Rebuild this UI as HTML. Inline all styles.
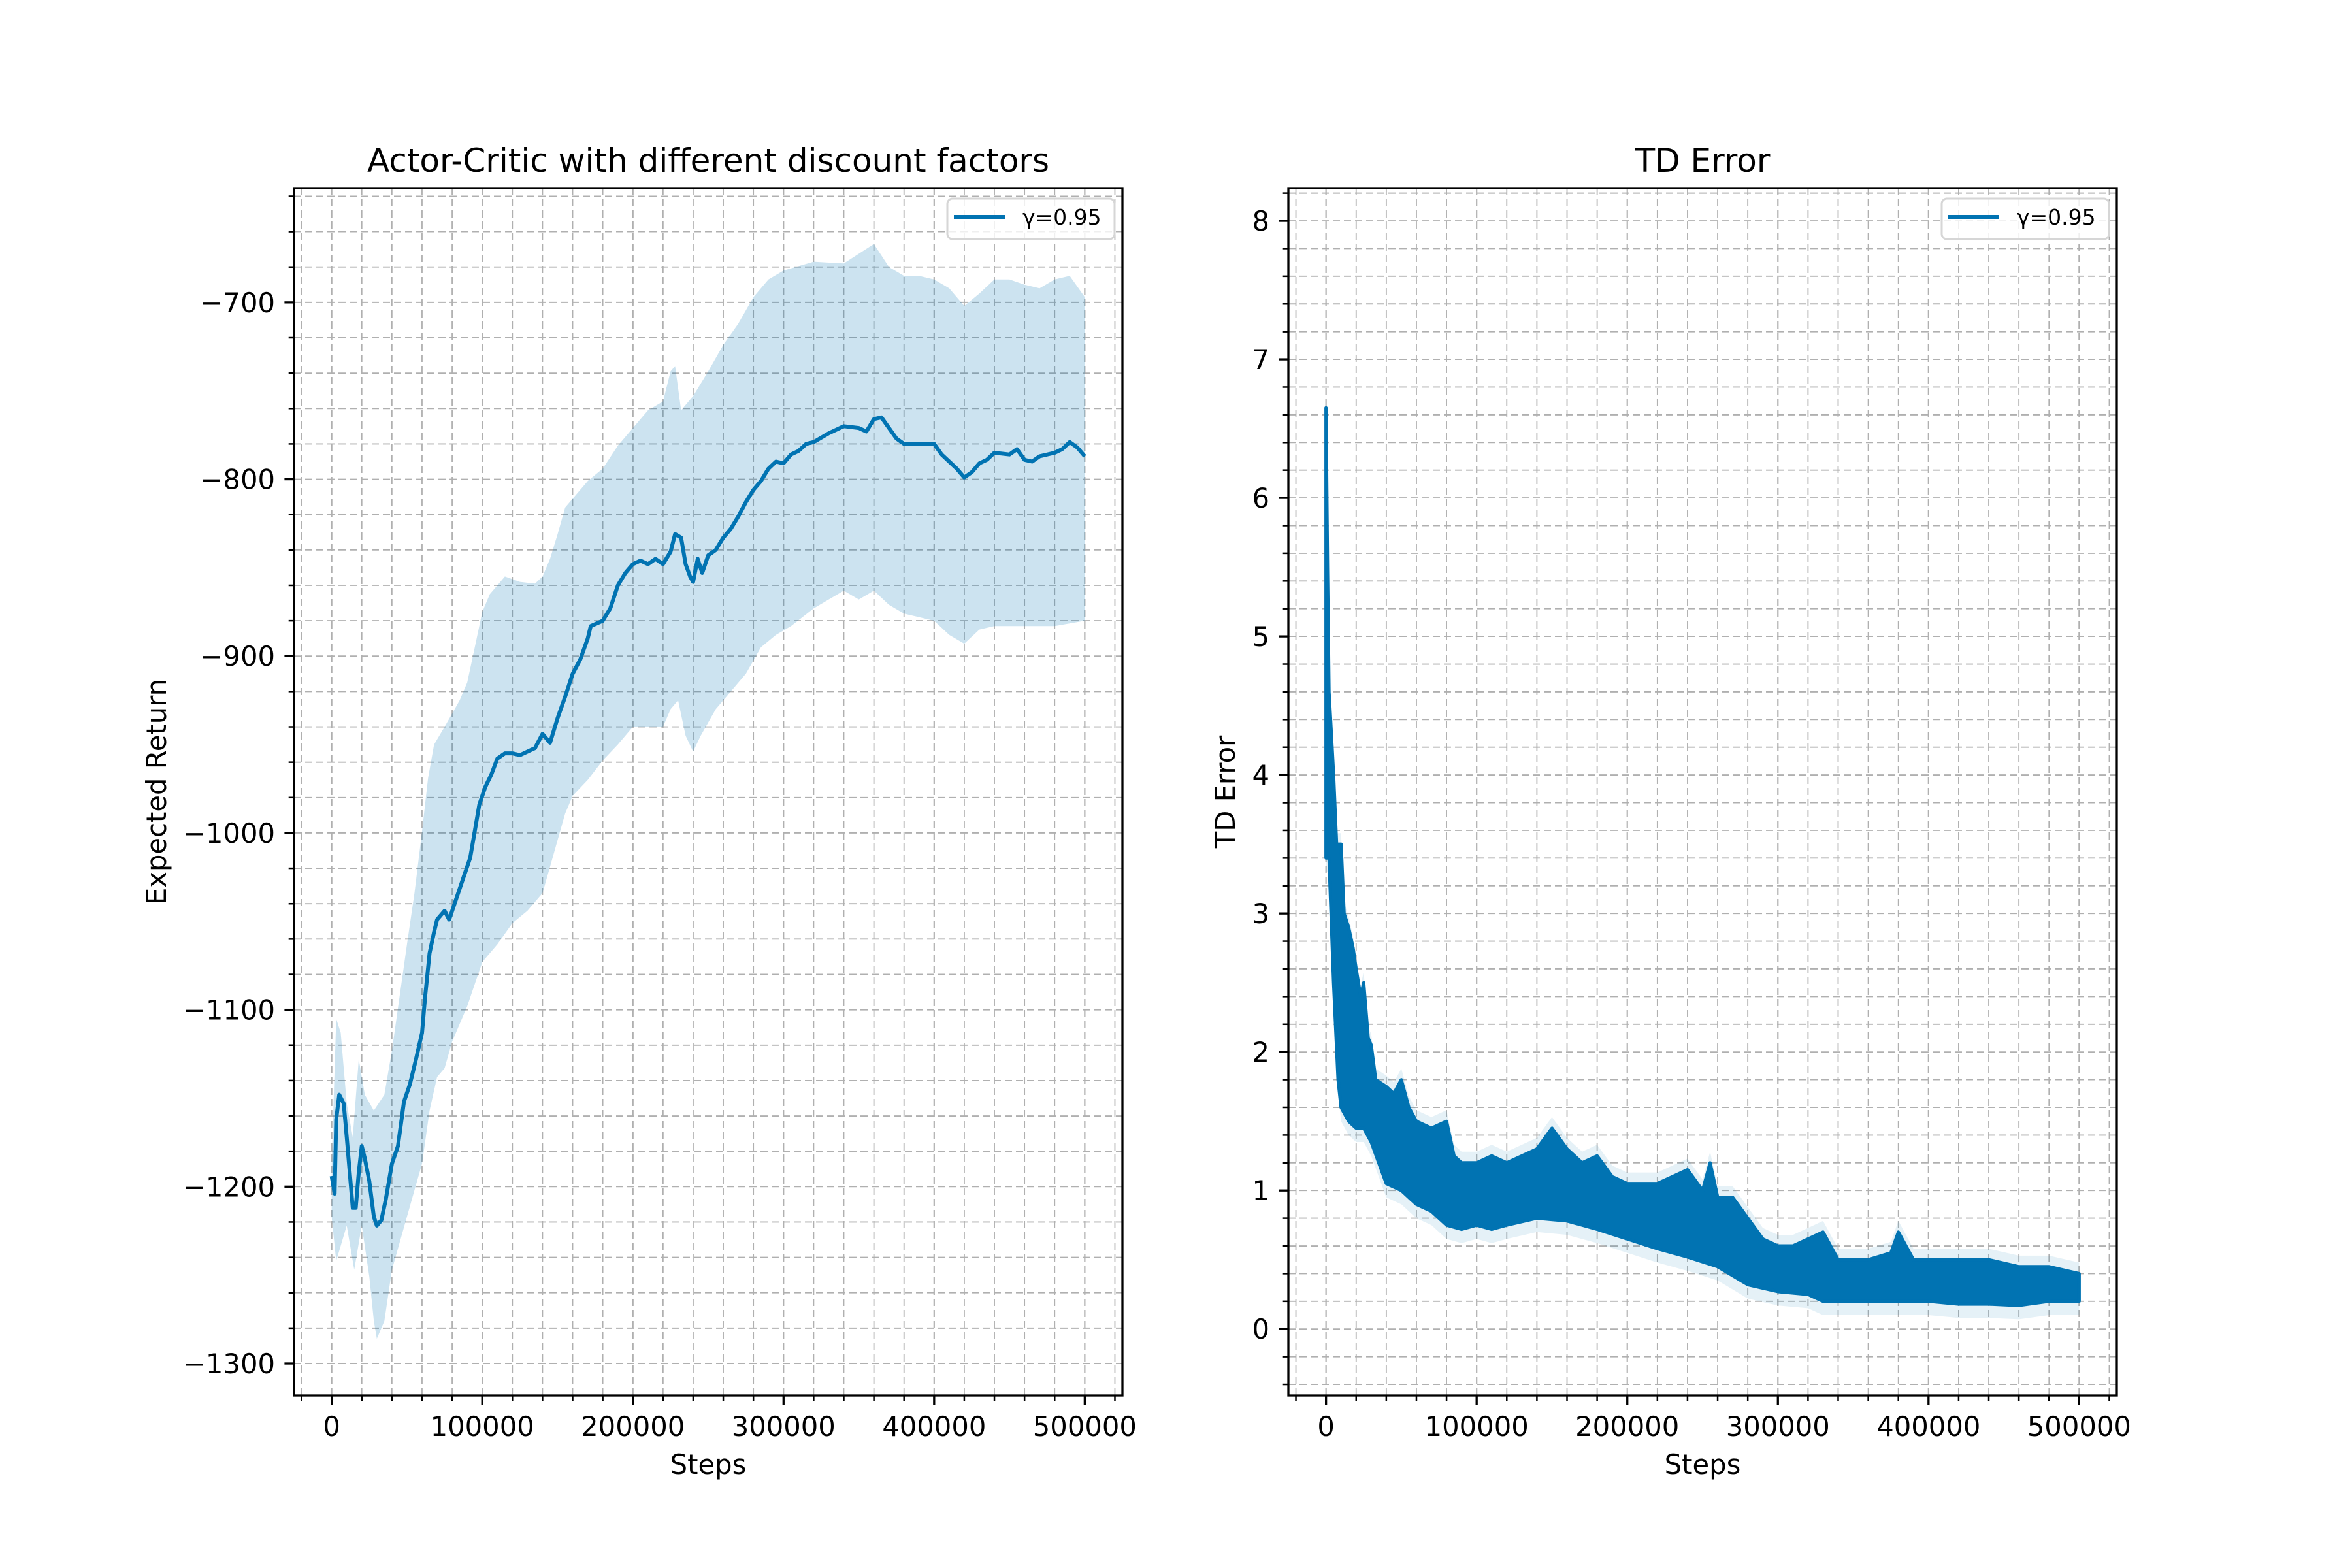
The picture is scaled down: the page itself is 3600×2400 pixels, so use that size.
<!DOCTYPE html>
<html><head><meta charset="utf-8">
<style>
html,body{margin:0;padding:0;background:#fff;}
svg{display:block;}
text{font-family:"DejaVu Sans","Liberation Sans",sans-serif;fill:#000;}
</style></head>
<body>
<svg id="fig" width="3600" height="2400" viewBox="0 0 3600 2400" xmlns="http://www.w3.org/2000/svg">
<rect width="3600" height="2400" fill="#fff"/>
</svg>
<script>
// ---------- Left chart data (steps in thousands) ----------
const retSteps = [0,2,3,5,8,10,12,14,16,18,20,22,25,28,30,33,36,40,44,48,52,56,60,62,65,68,70,75,78,82,88,92,95,98,102,106,110,115,120,125,135,140,145,150,155,160,165,170,172,180,185,190,195,200,205,210,215,220,225,228,232,235,238,240,243,246,250,255,260,265,270,275,280,285,290,295,300,305,310,315,320,330,340,350,355,360,365,370,375,380,390,400,405,410,415,420,425,430,435,440,450,455,460,465,470,480,485,490,495,500];
const retMean = [-1194,-1204,-1162,-1148,-1153,-1172,-1192,-1212,-1212,-1192,-1177,-1184,-1197,-1217,-1222,-1219,-1207,-1187,-1177,-1152,-1142,-1128,-1113,-1093,-1068,-1056,-1049,-1044,-1049,-1039,-1024,-1014,-999,-984,-974,-967,-958,-955,-955,-956,-952,-944,-949,-935,-923,-910,-902,-890,-883,-880,-873,-860,-853,-848,-846,-848,-845,-848,-841,-831,-833,-848,-855,-858,-845,-853,-843,-840,-833,-828,-821,-813,-806,-801,-794,-790,-791,-786,-784,-780,-779,-774,-770,-771,-773,-766,-765,-771,-777,-780,-780,-780,-786,-790,-794,-799,-796,-791,-789,-785,-786,-783,-789,-790,-787,-785,-783,-779,-782,-787];
const upSteps = [0,3,6,10,14,18,22,28,35,40,45,50,55,60,64,68,75,85,90,95,100,105,115,125,135,140,145,150,155,160,170,180,190,200,210,220,225,228,232,240,250,260,270,280,290,300,320,340,360,370,380,390,400,410,420,430,440,450,460,470,480,490,500];
const retUpper = [-1187,-1105,-1113,-1153,-1172,-1128,-1148,-1157,-1148,-1123,-1093,-1063,-1034,-999,-969,-950,-940,-925,-915,-895,-875,-865,-855,-858,-859,-855,-845,-831,-816,-811,-801,-794,-781,-771,-761,-756,-739,-736,-761,-753,-739,-724,-712,-697,-687,-682,-677,-678,-667,-680,-685,-685,-687,-692,-702,-695,-687,-687,-690,-692,-687,-685,-697];
const lowSteps = [0,3,10,15,20,25,28,30,35,40,50,55,60,65,70,75,80,90,100,110,120,130,140,150,155,160,170,180,190,200,210,220,225,230,235,240,245,255,265,275,285,295,305,320,340,350,360,370,380,400,410,420,430,440,460,480,500];
const retLower = [-1217,-1242,-1222,-1247,-1222,-1251,-1276,-1286,-1276,-1247,-1217,-1202,-1187,-1157,-1138,-1133,-1118,-1098,-1073,-1063,-1051,-1044,-1034,-1004,-989,-979,-970,-959,-950,-940,-940,-940,-930,-925,-945,-954,-945,-930,-920,-910,-895,-888,-883,-873,-863,-868,-863,-871,-876,-880,-888,-893,-885,-883,-883,-883,-880];
const retYTicks = [-1300,-1200,-1100,-1000,-900,-800,-700];
const xTicks = [0,100000,200000,300000,400000,500000];

// ---------- Right chart data ----------
const tdUpSteps = [0,1,2,3,5,7,10,12,15,18,20,23,25,28,30,33,40,45,50,55,60,70,80,85,90,100,110,120,140,150,160,170,180,190,200,210,220,230,240,250,255,260,270,280,290,300,310,320,330,340,350,360,375,380,390,400,420,440,460,480,500];
const tdUpper = [6.65,5.5,4.6,4.4,4.0,3.5,3.5,3.0,2.9,2.75,2.6,2.4,2.5,2.1,2.05,1.8,1.75,1.7,1.8,1.6,1.5,1.45,1.5,1.25,1.2,1.2,1.25,1.2,1.3,1.45,1.3,1.2,1.25,1.1,1.05,1.05,1.05,1.1,1.15,1.0,1.2,0.95,0.95,0.8,0.65,0.6,0.6,0.65,0.7,0.5,0.5,0.5,0.55,0.7,0.5,0.5,0.5,0.5,0.45,0.45,0.4];
const tdLowSteps = [0,2,5,8,10,15,20,25,30,35,40,50,60,70,80,90,100,110,120,140,160,180,200,220,240,260,280,300,320,330,340,360,380,400,420,440,460,480,500];
const tdLower = [3.4,3.4,2.5,1.8,1.6,1.5,1.45,1.45,1.35,1.2,1.05,1.0,0.9,0.85,0.75,0.72,0.75,0.72,0.75,0.8,0.78,0.72,0.65,0.58,0.52,0.45,0.32,0.27,0.25,0.2,0.2,0.2,0.2,0.2,0.18,0.18,0.17,0.2,0.2];
const tdYTicks = [0,1,2,3,4,5,6,7,8];

const NS = "http://www.w3.org/2000/svg";
const svg = document.getElementById('fig');
const COLOR = "#0173b2";
function el(tag, attrs, parent){ const e=document.createElementNS(NS,tag); for(const k in attrs) e.setAttribute(k,attrs[k]); (parent||svg).appendChild(e); return e; }
function fmt(v){ return v<0 ? "\u2212"+Math.abs(v) : String(v); }

function makeAxes(cfg){
  const {x0,x1,y0,y1,xmin,xmax,ymin,ymax} = cfg;
  const sx = v => x0 + (v - xmin)/(xmax - xmin)*(x1 - x0);
  const sy = v => y1 - (v - ymin)/(ymax - ymin)*(y1 - y0);
  const g = el('g',{});
  
  
  const grid = el('g',{},g);
  
  
  // minor x grid
  for(let v=Math.ceil(xmin/20000)*20000; v<=xmax; v+=20000){
    const X=sx(v); const major = (v%100000===0);
    el('line',{x1:X,x2:X,y1:y0,y2:y1,stroke:"#b0b0b0","stroke-width":major?2.2:1.8,"stroke-dasharray":"11 6"},grid);
  }
  for(let i=Math.ceil(ymin/cfg.minor); i*cfg.minor<=ymax; i++){
    const v=i*cfg.minor; const Y=sy(v);
    el('line',{x1:x0,x2:x1,y1:Y,y2:Y,stroke:"#b0b0b0","stroke-width":1.9,"stroke-dasharray":"11 6"},grid);
  }
  return {g,sx,sy};
}

function finishAxes(ax,cfg,yTicks){
  const {x0,x1,y0,y1,xmin,xmax,ymin,ymax} = cfg;
  const {g,sx,sy} = ax;
  // minor ticks
  for(let v=Math.ceil(xmin/20000)*20000; v<=xmax; v+=20000){
    if(v%100000===0) continue;
    el('line',{x1:sx(v),x2:sx(v),y1:y1,y2:y1+8.3,stroke:"#000","stroke-width":2.5},g);
  }
  for(let i=Math.ceil(ymin/cfg.minor); i*cfg.minor<=ymax; i++){
    const v=i*cfg.minor; if(Math.abs(v/cfg.major-Math.round(v/cfg.major))<1e-6) continue;
    el('line',{x1:x0-8.3,x2:x0,y1:sy(v),y2:sy(v),stroke:"#000","stroke-width":2.5},g);
  }
  xTicks.forEach(v=>{
    el('line',{x1:sx(v),x2:sx(v),y1:y1,y2:y1+14.6,stroke:"#000","stroke-width":3.3},g);
    const t=el('text',{x:sx(v),y:2198,"font-size":41.7,"text-anchor":"middle"},g);
    
    
    t.textContent=String(v);
  });
  yTicks.forEach(v=>{
    el('line',{x1:x0-14.6,x2:x0,y1:sy(v),y2:sy(v),stroke:"#000","stroke-width":3.3},g);
    const t=el('text',{x:x0-29,y:sy(v)+15,"font-size":41.7,"text-anchor":"end"},g);
    
    
    t.textContent=fmt(v);
  });
  const fr=el('rect',{x:x0,y:y0,width:x1-x0,height:y1-y0,fill:"none",stroke:"#000","stroke-width":3.3},g);
  
  
  const tt=el('text',{x:(x0+x1)/2,y:263,"font-size":50,"text-anchor":"middle"},g);
  
  
  tt.textContent=cfg.title;
  const xl=el('text',{x:(x0+x1)/2,y:2256,"font-size":41.7,"text-anchor":"middle"},g);
  
  
  xl.textContent="Steps";
  const yc=(y0+y1)/2;
  const yl=el('text',{x:cfg.ylx,y:yc,"font-size":41.7,"text-anchor":"middle",transform:`rotate(-90 ${cfg.ylx} ${yc})`},g);
  
  
  yl.textContent=cfg.ylabel;
  // legend
  const lx1=x1-12, lx0=lx1-256, ly0=y0+16, ly1=ly0+62;
  const lg=el('g',{},g);
  
  
  el('rect',{x:lx0,y:ly0,width:lx1-lx0,height:ly1-ly0,rx:8,fill:"#fff","fill-opacity":0.8,stroke:"#d6d6d6","stroke-width":3},lg);
  const ll=el('line',{x1:lx0+10,x2:lx0+88,y1:ly0+28,y2:ly0+28,stroke:COLOR,"stroke-width":6},lg);
  
  
  const lt=el('text',{x:lx0+115,y:ly0+40,"font-size":33},lg);
  
  
  lt.textContent="\u03b3=0.95";
}

function bandPath(sx,sy,upX,upY,loX,loY){
  let d="";
  upX.forEach((k,i)=>{ d += (i?"L":"M")+sx(k*1000).toFixed(1)+","+sy(upY[i]).toFixed(1); });
  for(let i=loX.length-1;i>=0;i--) d += "L"+sx(loX[i]*1000).toFixed(1)+","+sy(loY[i]).toFixed(1);
  return d+"Z";
}

// ---------- Left chart ----------
const cfgL={name:"return-chart",x0:450,x1:1718,y0:288,y1:2136,xmin:-25000,xmax:525000,ymin:-1318.1,ymax:-635.4,minor:20,major:100,title:"Actor-Critic with different discount factors",ylabel:"Expected Return",ylx:254};
const axL=makeAxes(cfgL);
const band=el('path',{d:bandPath(axL.sx,axL.sy,upSteps,retUpper,lowSteps,retLower),fill:COLOR,"fill-opacity":0.2,stroke:"none"},axL.g);


let dL="";
retSteps.forEach((k,i)=>{ dL += (i?"L":"M")+axL.sx(k*1000).toFixed(1)+","+axL.sy(retMean[i]).toFixed(1); });
const lineL=el('path',{d:dL,fill:"none",stroke:COLOR,"stroke-width":6,"stroke-linejoin":"round"},axL.g);


finishAxes(axL,cfgL,retYTicks);

// ---------- Right chart ----------
const cfgR={name:"td-error-chart",x0:1972,x1:3240,y0:288,y1:2136,xmin:-25000,xmax:525000,ymin:-0.48,ymax:8.236,minor:0.2,major:1,title:"TD Error",ylabel:"TD Error",ylx:1890};
const axR=makeAxes(cfgR);
const tdBand=el('path',{d:bandPath(axR.sx,axR.sy,tdUpSteps,tdUpper.map(v=>v+0.08),tdLowSteps,tdLower.map(v=>v-0.1)),fill:COLOR,"fill-opacity":0.1,stroke:"none"},axR.g);


const tdFill=el('path',{d:bandPath(axR.sx,axR.sy,tdUpSteps,tdUpper,tdLowSteps,tdLower),fill:COLOR,stroke:COLOR,"stroke-width":5,"stroke-linejoin":"round"},axR.g);


finishAxes(axR,cfgR,tdYTicks);
</script>
</body></html>
